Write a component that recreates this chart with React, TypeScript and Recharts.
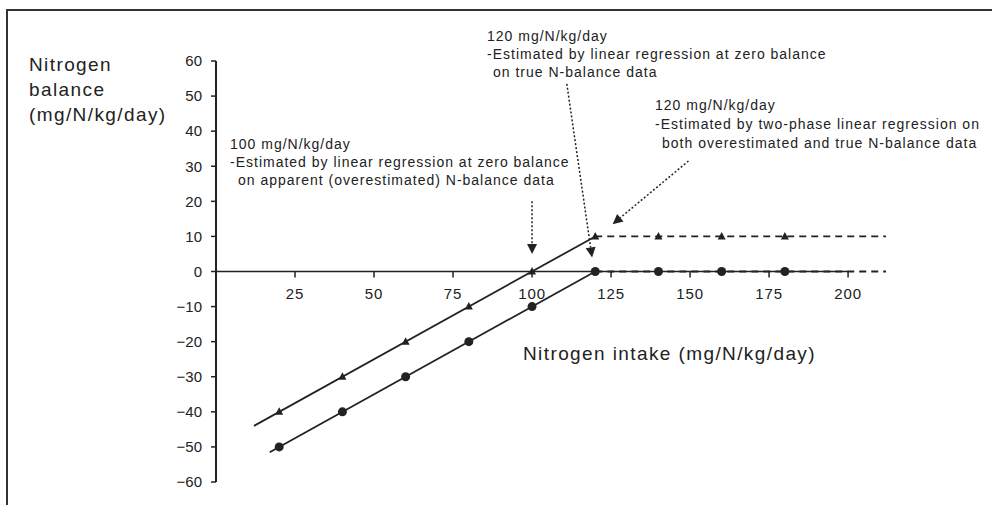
import { ComposedChart, Line, Scatter, XAxis, YAxis, ReferenceLine } from "recharts"

// measured points (intake vs. balance)
const intake = [20, 40, 60, 80, 100, 120, 140, 160, 180]
const apparentBalance = [-40, -30, -20, -10, 0, 10, 10, 10, 10]
const trueBalance = [-50, -40, -30, -20, -10, 0, 0, 0, 0]

// fitted lines
const apparentFitX = [12, 120]
const apparentFitY = [-44, 10]
const trueFitX = [17, 120]
const trueFitY = [-51.5, 0]
const plateauX = [120, 212]
const apparentPlateauY = [10, 10]
const truePlateauY = [0, 0]

const xTicks = [25, 50, 75, 100, 125, 150, 175, 200]
const yTicks = [-60, -50, -40, -30, -20, -10, 0, 10, 20, 30, 40, 50, 60]

// annotation arrows: start and tip, in data units
const arrowFrom = [
  [100, 20],
  [111, 53.5],
  [149.5, 31.5],
]
const arrowTo = [
  [100, 5],
  [119, 4],
  [125.5, 13.5],
]

const annotations = [
  { x: [230, 230, 238], y: [149, 167, 185], lines: ["100 mg/N/kg/day", "-Estimated by linear regression at zero balance", "on apparent (overestimated) N-balance data"] },
  { x: [487, 487, 493], y: [41, 59, 77], lines: ["120 mg/N/kg/day", "-Estimated by linear regression at zero balance", "on true N-balance data"] },
  { x: [655, 655, 662], y: [110, 129, 148], lines: ["120 mg/N/kg/day", "-Estimated by two-phase linear regression on", "both overestimated and true N-balance data"] },
]

const W = 992
const H = 505
const MARGIN = { top: 61, right: 106, bottom: 3, left: 0 }
const Y_AXIS_W = 216
const X_AXIS_H = 20
const PLOT_H = H - MARGIN.top - MARGIN.bottom - X_AXIS_H
const ZERO_Y = MARGIN.top + PLOT_H / 2
const INK = "#222"
const FONT = "'Liberation Sans', Arial, sans-serif"

const pts = (xs: number[], ys: number[]) => xs.map((x, i) => ({ x, y: ys[i] }))

const apparentPoints = pts(intake, apparentBalance)
const truePoints = pts(intake, trueBalance)

function XTick({ x, payload }: any) {
  return (
    <g>
      <line x1={x} x2={x} y1={ZERO_Y} y2={ZERO_Y + 6} stroke={INK} strokeWidth={1.5} />
      <text x={x} y={ZERO_Y + 27} textAnchor="middle" fontSize={15} fill={INK} style={{ letterSpacing: 0.9 }}>
        {payload.value}
      </text>
    </g>
  )
}

function Triangle({ cx, cy }: any) {
  return <polygon points={`${cx},${cy - 4.5} ${cx - 4},${cy + 3} ${cx + 4},${cy + 3}`} fill={INK} />
}

function Dot({ cx, cy }: any) {
  return <circle cx={cx} cy={cy} r={4.5} fill={INK} />
}

function DottedArrow({ x1, y1, x2, y2 }: any) {
  const dx = x2 - x1
  const dy = y2 - y1
  const len = Math.hypot(dx, dy) || 1
  const ux = dx / len
  const uy = dy / len
  const head = 10
  const half = 5
  const bx = x2 - ux * head
  const by = y2 - uy * head
  const poly = `${x2},${y2} ${bx - uy * half},${by + ux * half} ${bx + uy * half},${by - ux * half}`
  return (
    <g>
      <line x1={x1} y1={y1} x2={bx} y2={by} stroke={INK} strokeWidth={1.5} strokeDasharray="2 2" />
      <polygon points={poly} fill={INK} />
    </g>
  )
}

export default function App() {
  return (
    <div style={{ position: "absolute", left: 0, top: 0, width: W, height: H, fontFamily: FONT, background: "#fff" }}>
      <div
        style={{
          position: "absolute",
          left: 6,
          top: 9,
          right: 0,
          bottom: 0,
          borderTop: "2px solid #333",
          borderLeft: "2px solid #333",
        }}
      />
      {/* y axis spine as a plain block, placed at the plot's left edge */}
      <div
        style={{
          position: "absolute",
          left: MARGIN.left + Y_AXIS_W - 1,
          top: MARGIN.top,
          width: 2,
          height: PLOT_H,
          background: INK,
        }}
      />
      <ComposedChart width={W} height={H} margin={MARGIN} style={{ position: "absolute", left: 0, top: 0 }}>
        <XAxis
          type="number"
          dataKey="x"
          domain={[0, 212]}
          ticks={xTicks}
          interval={0}
          height={X_AXIS_H}
          axisLine={false}
          tickLine={false}
          tick={<XTick />}
        />
        <YAxis
          type="number"
          dataKey="y"
          domain={[-60, 60]}
          ticks={yTicks}
          interval={0}
          width={Y_AXIS_W}
          tickSize={5}
          tickMargin={9}
          axisLine={{ stroke: INK, strokeWidth: 2 }}
          tickLine={{ stroke: INK, strokeWidth: 1.5 }}
          tick={{ fontSize: 15, fill: INK }}
          tickFormatter={(v: number) => (v < 0 ? `\u2212${Math.abs(v)}` : `${v}`)}
        />
        {/* x axis line at zero balance */}
        <ReferenceLine
          segment={[
            { x: 0, y: 0 },
            { x: 200, y: 0 },
          ]}
          ifOverflow="visible"
          stroke={INK}
          strokeWidth={1.5}
        />
        <Line data={pts(apparentFitX, apparentFitY)} dataKey="y" stroke={INK} strokeWidth={1.8} dot={false} isAnimationActive={false} />
        <Line data={pts(trueFitX, trueFitY)} dataKey="y" stroke={INK} strokeWidth={1.8} dot={false} isAnimationActive={false} />
        <Line data={pts(plateauX, apparentPlateauY)} dataKey="y" stroke={INK} strokeWidth={1.8} strokeDasharray="7 5" dot={false} isAnimationActive={false} />
        <Line data={pts(plateauX, truePlateauY)} dataKey="y" stroke={INK} strokeWidth={1.8} strokeDasharray="7 5" dot={false} isAnimationActive={false} />
        <Scatter data={apparentPoints} shape={<Triangle />} isAnimationActive={false} />
        <Scatter data={truePoints} shape={<Dot />} isAnimationActive={false} />
        {arrowFrom.map((f, i) => (
          <ReferenceLine
            key={i}
            segment={[
              { x: f[0], y: f[1] },
              { x: arrowTo[i][0], y: arrowTo[i][1] },
            ]}
            ifOverflow="visible"
            shape={DottedArrow}
          />
        ))}
      </ComposedChart>
      <svg width={W} height={H} style={{ position: "absolute", left: 0, top: 0, pointerEvents: "none" }}>
        <g fontSize={19} fill={INK} style={{ letterSpacing: 1.4 }}>
          <text x={29} y={71}>Nitrogen</text>
          <text x={29} y={96}>balance</text>
          <text x={29} y={121}>(mg/N/kg/day)</text>
          <text x={523} y={360}>Nitrogen intake (mg/N/kg/day)</text>
        </g>
        <g fontSize={14} fill={INK} style={{ letterSpacing: 1 }}>
          {annotations.map((a, i) =>
            a.lines.map((t, j) => (
              <text key={`${i}-${j}`} x={a.x[j]} y={a.y[j]}>
                {t}
              </text>
            ))
          )}
        </g>
      </svg>
    </div>
  )
}
